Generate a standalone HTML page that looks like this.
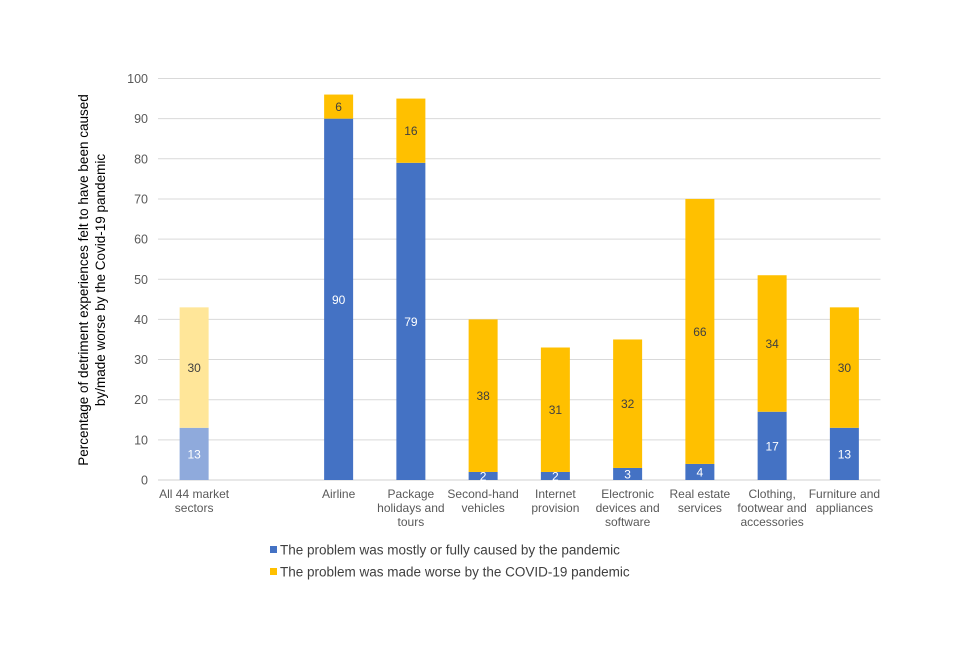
<!DOCTYPE html>
<html><head><meta charset="utf-8"><style>
body{margin:0;background:#fff;}
svg text{font-family:"Liberation Sans",Arial,sans-serif;}
</style></head><body>
<svg width="960" height="640" viewBox="0 0 960 640">
<g id="grid"></g><g id="bars"></g><g id="xlabels"></g>
<text transform="translate(96,280) rotate(-90)" text-anchor="middle" font-size="13.5" fill="#000"><tspan x="0" dy="-8">Percentage of detriment experiences felt to have been caused</tspan><tspan x="0" dy="17">by/made worse by the Covid-19 pandemic</tspan></text>
<g>
<rect x="270" y="546" width="7" height="7" fill="#4472C4"/>
<text x="280" y="554.5" font-size="13.5" fill="#404040">The problem was mostly or fully caused by the pandemic</text>
<rect x="270" y="568" width="7" height="7" fill="#FFC000"/>
<text x="280" y="576.5" font-size="13.5" fill="#404040">The problem was made worse by the COVID-19 pandemic</text>
</g>
</svg>
<script>
const categories=[["All 44 market","sectors"],null,["Airline"],["Package","holidays and","tours"],["Second-hand","vehicles"],["Internet","provision"],["Electronic","devices and","software"],["Real estate","services"],["Clothing,","footwear and","accessories"],["Furniture and","appliances"]];
const caused=[13,null,90,79,2,2,3,4,17,13];
const worse=[30,null,6,16,38,31,32,66,34,30];
const yTicks=[0,10,20,30,40,50,60,70,80,90,100];
const NS="http://www.w3.org/2000/svg";
const left=158,slot=72.25,bw=29,y0=480,y100=78.5;
const y=v=>y0-(y0-y100)*v/100;
const x=i=>left+slot*(i+0.5);
function mk(t,a,p){const e=document.createElementNS(NS,t);for(const k in a)e.setAttribute(k,a[k]);p.appendChild(e);return e;}
const grid=document.getElementById('grid'),bars=document.getElementById('bars'),xl=document.getElementById('xlabels');
yTicks.forEach(t=>{
 const l=mk('line',{x1:left,x2:left+slot*10,y1:y(t),y2:y(t),stroke:t===0?'#d0d0d0':'#d9d9d9','stroke-width':1},grid);
 
 
 const tx=mk('text',{x:left-10,y:y(t)+4.5,'text-anchor':'end','font-size':12.5,fill:'#595959'},grid);
 tx.textContent=t;
 
 
});
categories.forEach((c,i)=>{
 if(!c)return;
 const first=i===0;
 const cx=x(i);
 const r1=mk('rect',{x:cx-bw/2,y:y(caused[i]),width:bw,height:y(0)-y(caused[i]),fill:first?'#8FAADC':'#4472C4'},bars);
 
 
 const r2=mk('rect',{x:cx-bw/2,y:y(caused[i]+worse[i]),width:bw,height:y(caused[i])-y(caused[i]+worse[i]),fill:first?'#FFE699':'#FFC000'},bars);
 
 
 const t1=mk('text',{x:cx,y:(y(0)+y(caused[i]))/2+4.5,'text-anchor':'middle','font-size':12,fill:'#fff'},bars);
 t1.textContent=caused[i];
 
 
 const t2=mk('text',{x:cx,y:(y(caused[i])+y(caused[i]+worse[i]))/2+4.5,'text-anchor':'middle','font-size':12,fill:'#404040'},bars);
 t2.textContent=worse[i];
 
 
 const tx=mk('text',{x:cx,y:498,'text-anchor':'middle','font-size':12,fill:'#595959'},xl);
 
 
 c.forEach((s,j)=>{const ts=mk('tspan',{x:cx,dy:j?14:0},tx);ts.textContent=s;});
});
</script>
</body></html>
